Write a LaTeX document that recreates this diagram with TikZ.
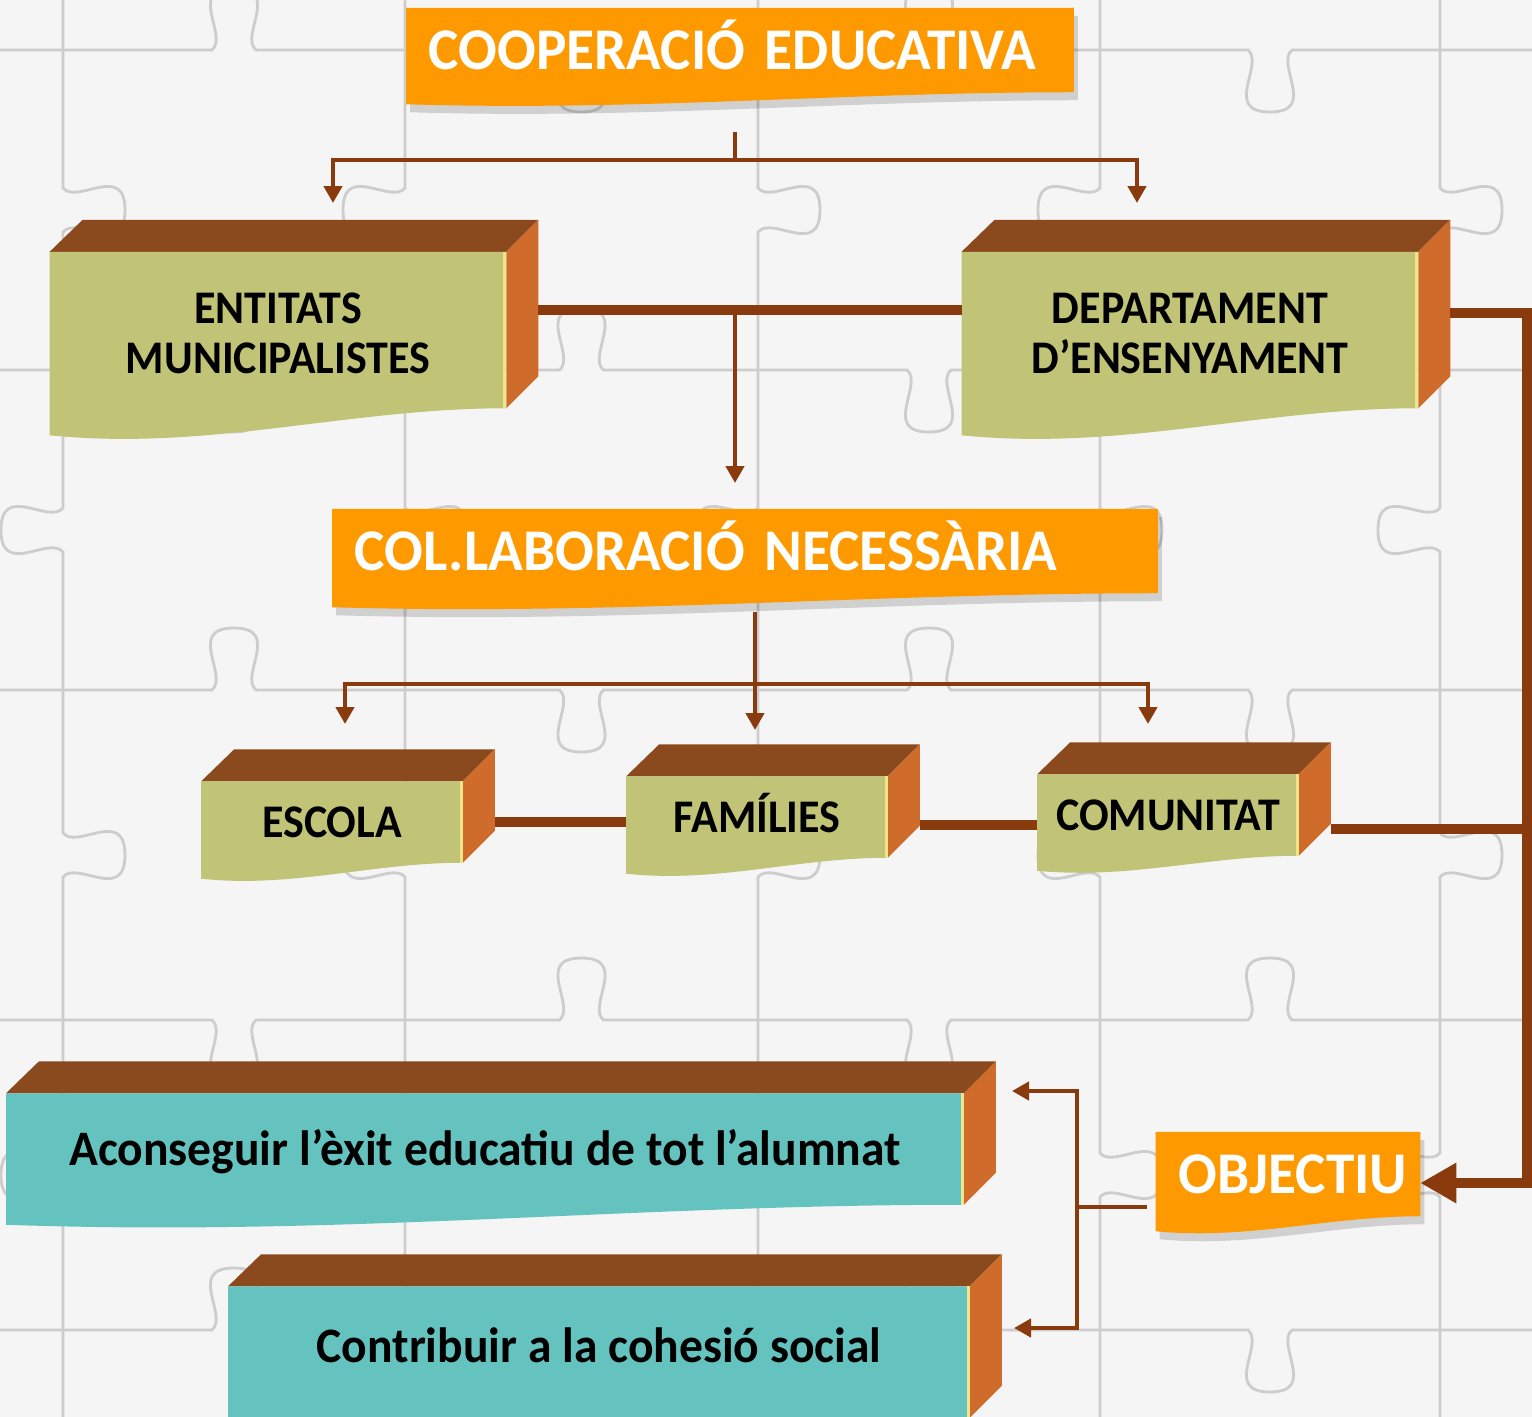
\documentclass[tikz,border=0pt]{standalone}
\usepackage{fontspec}
\setmainfont{Carlito}
\newfontfamily\headfont[FakeStretch=0.97]{Carlito}
\newfontfamily\cubefont[FakeStretch=0.94]{Carlito}
\newfontfamily\goalfont[FakeStretch=0.96]{Carlito}
\usepackage{tikz}
\usetikzlibrary{arrows.meta,positioning,calc,backgrounds}
\definecolor{paper}{HTML}{F5F5F5}
\definecolor{puzzleline}{HTML}{CDCDCD}
\definecolor{bannerorange}{HTML}{FF9900}
\definecolor{topbrown}{HTML}{8B4A1E}
\definecolor{sideorange}{HTML}{CF6C2C}
\definecolor{olivefront}{HTML}{C1C377}
\definecolor{tealfront}{HTML}{65C3BF}
\definecolor{edgeyellow}{HTML}{EFE68A}
\definecolor{linkbrown}{HTML}{8A3B0E}
\tikzset{
  bannernode/.style={
    inner xsep=0.22cm,
    inner ysep=0pt,
    align=left,
    minimum height=0.83cm,
    text height=0.38cm,
    text depth=0pt,
    text=white,
    font=\headfont\bfseries\fontsize{16.8}{18}\selectfont
  },
  cubenode/.style={
    inner sep=0pt,
    align=center,
    text height=0.30cm,
    text depth=0pt,
    font=\cubefont\bfseries\fontsize{13.3}{14.2}\selectfont
  },
  bigcube/.style={cubenode, text height=0.86cm, minimum width=4.55cm, minimum height=1.55cm},
  smallcube/.style={cubenode, minimum width=2.6cm, minimum height=0.8cm},
  goalcube/.style={
    inner sep=0pt,
    align=center,
    text height=0.32cm,
    text depth=0pt,
    font=\goalfont\bfseries\fontsize{14.1}{16}\selectfont
  },
  puzzle/.style={draw=puzzleline, line width=0.8pt},
  thinlink/.style={draw=linkbrown, line width=1.3pt},
  thinarrow/.style={thinlink, -{Triangle[length=1.7mm,width=1.8mm]}},
  thicklink/.style={draw=linkbrown, line width=2.85pt},
  thickarrow/.style={thicklink, -{Triangle[length=3.6mm,width=3.8mm]}}
}
% 3d faces behind a front node: #1 node, #2 wave, #3 front colour
\newcommand{\cubefaces}[3]{%
  \begin{scope}[on background layer]
    \fill[topbrown] (#1.north west) -- ++(33,-32) -- ($(#1.north east)+(32,-32)$) -- (#1.north east) -- cycle;
    \fill[sideorange] (#1.north east) -- ++(32,-32) -- ($(#1.south east)+(32,-32)$) -- (#1.south east) -- cycle;
    \fill[#3] (#1.north west) -- (#1.north east) -- (#1.south east)
      .. controls ($(#1.south east)!0.35!(#1.south west)$) and ($(#1.south west)!0.35!(#1.south east)+(0,1.6*#2)$)
      .. ($(#1.south west)+(0,#2)$) -- cycle;
    \draw[edgeyellow, line width=0.9pt] ([xshift=-0.45pt]#1.north east) -- ([xshift=-0.45pt]#1.south east);
  \end{scope}
}
% orange banner behind a node: #1 node, #2 wave
\newcommand{\bannerface}[2]{%
  \begin{scope}[on background layer]
    \fill[black, opacity=0.15, transform canvas={shift={(4,8)}}] (#1.north west) -- (#1.north east) -- (#1.south east)
      .. controls ($(#1.south east)!0.35!(#1.south west)$) and ($(#1.south west)!0.35!(#1.south east)+(0,1.6*#2)$)
      .. ($(#1.south west)+(0,#2)$) -- cycle;
    \fill[bannerorange] (#1.north west) -- (#1.north east) -- (#1.south east)
      .. controls ($(#1.south east)!0.35!(#1.south west)$) and ($(#1.south west)!0.35!(#1.south east)+(0,1.6*#2)$)
      .. ($(#1.south west)+(0,#2)$) -- cycle;
  \end{scope}
}
% jigsaw edges: from, to, position, knob side
\newcommand{\hpiece}[4]{%
  \draw[puzzle] (#1,#3) -- ({(#1+#2)/2-22},#3)
    .. controls ({(#1+#2)/2-5},{#3+#4*14}) and ({(#1+#2)/2-48},{#3+#4*62}) .. ({(#1+#2)/2},{#3+#4*62})
    .. controls ({(#1+#2)/2+48},{#3+#4*62}) and ({(#1+#2)/2+5},{#3+#4*14}) .. ({(#1+#2)/2+22},#3) -- (#2,#3);
}
\newcommand{\vpiece}[4]{%
  \draw[puzzle] (#3,#1) -- (#3,{(#1+#2)/2-22})
    .. controls ({#3+#4*14},{(#1+#2)/2-5}) and ({#3+#4*62},{(#1+#2)/2-48}) .. ({#3+#4*62},{(#1+#2)/2})
    .. controls ({#3+#4*62},{(#1+#2)/2+48}) and ({#3+#4*14},{(#1+#2)/2+5}) .. (#3,{(#1+#2)/2+22}) -- (#3,#2);
}
\begin{document}
\begin{tikzpicture}[x=0.01cm, y=-0.01cm]
  \useasboundingbox (0,0) rectangle (1532,1417);
  \clip (0,0) rectangle (1532,1417);
  \begin{scope}[on background layer]
    \fill[paper] (0,0) rectangle (1532,1417);
    \foreach \gy [count=\j] in {50,370,690,1020,1330} {
      \foreach \xa/\xb [count=\i] in {-280/63,63/405,405/758,758/1100,1100/1440,1440/1780} {
        \pgfmathsetmacro{\knob}{ifthenelse(mod(\i+\j,2)==0,1,-1)}
        \hpiece{\xa}{\xb}{\gy}{\knob}
      }
    }
    \foreach \gx [count=\j] in {63,405,758,1100,1440} {
      \foreach \ya/\yb [count=\i] in {-270/50,50/370,370/690,690/1020,1020/1330,1330/1650} {
        \pgfmathsetmacro{\knob}{ifthenelse(mod(\i+\j,2)==0,-1,1)}
        \vpiece{\ya}{\yb}{\gx}{\knob}
      }
    }
  \end{scope}

  % banners
  \node[bannernode, text width=6.22cm] (coop) at (740,50) {COOPERACI\'O EDUCATIVA};
  \node[bannernode, text width=7.80cm] (colab) at (745,551) {COL.LABORACI\'O NECESSÀRIA};
  \node[bannernode, text width=2.19cm] (obj) at (1288,1174) {OBJECTIU};
  \bannerface{coop}{12}
  \bannerface{colab}{14}
  \bannerface{obj}{15}

  % boxes
  \node[bigcube] (ent) at (278,330) {ENTITATS\\MUNICIPALISTES};
  \node[bigcube, right=4.55cm of ent] (dep) {DEPARTAMENT\\D’ENSENYAMENT};
  \node[smallcube] (esc) at (332,822) {ESCOLA};
  \node[smallcube] (fam) at (757,817) {FAMÍLIES};
  \node[smallcube] (com) at (1168,815) {COMUNITAT};
  \node[goalcube, minimum width=9.56cm, minimum height=1.10cm] (goal1) at (485,1149) {Aconseguir l’èxit educatiu de tot l’alumnat};
  \node[goalcube, text depth=0.12cm, minimum width=7.40cm, minimum height=1.30cm] (goal2) at (599,1352) {Contribuir a la cohesió social};
  \cubefaces{ent}{27}{olivefront}
  \cubefaces{dep}{27}{olivefront}
  \cubefaces{esc}{16}{olivefront}
  \cubefaces{fam}{16}{olivefront}
  \cubefaces{com}{15}{olivefront}
  \cubefaces{goal1}{20}{tealfront}
  \cubefaces{goal2}{20}{tealfront}

  % connectors
  \coordinate (coopstem) at (735,132);
  \coordinate (coopfork) at (735,160);
  \coordinate (entin) at (333,203);
  \coordinate (depin) at (1137,203);
  \draw[thinlink] (coopstem) -- (coopfork);
  \draw[thinarrow] (coopfork) -| (entin);
  \draw[thinarrow] (coopfork) -| (depin);

  \draw[thicklink] ($(ent.east)+(32,-20)$) -- ($(dep.west)+(0,-20)$);
  \coordinate (colabstem) at (735,310);
  \coordinate (colabin) at (735,483);
  \draw[thinarrow] (colabstem) -- (colabin);

  \coordinate (colabout) at (755,612);
  \coordinate (colabfork) at (755,684);
  \coordinate (escin) at (345,724);
  \coordinate (famin) at (755,730);
  \coordinate (comin) at (1148,724);
  \draw[thinlink] (colabout) -- (colabfork);
  \draw[thinarrow] (colabfork) -| (escin);
  \draw[thinarrow] (colabfork) -- (famin);
  \draw[thinarrow] (colabfork) -| (comin);

  \draw[thicklink] ($(esc.east)+(32,0)$) -- (esc.east -| fam.west);
  \draw[thicklink] ($(fam.east)+(32,8)$) -- ($(fam.east -| com.west)+(0,8)$);

  \coordinate (trunkbottom) at (1527,1183);
  \coordinate (comout) at ($(com.east)+(32,14)$);
  \draw[thickarrow] ($(dep.east)+(32,-17)$) -| (trunkbottom) -- (obj.east |- trunkbottom);
  \draw[thicklink] (comout) -- (comout -| trunkbottom);

  \coordinate (objout) at (1147,1207);
  \coordinate (goalfork) at (1077,1207);
  \coordinate (goal1in) at (1012,1091);
  \coordinate (goal2in) at (1014,1328);
  \draw[thinlink] (objout) -- (goalfork);
  \draw[thinarrow] (goalfork) |- (goal1in);
  \draw[thinarrow] (goalfork) |- (goal2in);
\end{tikzpicture}
\end{document}
